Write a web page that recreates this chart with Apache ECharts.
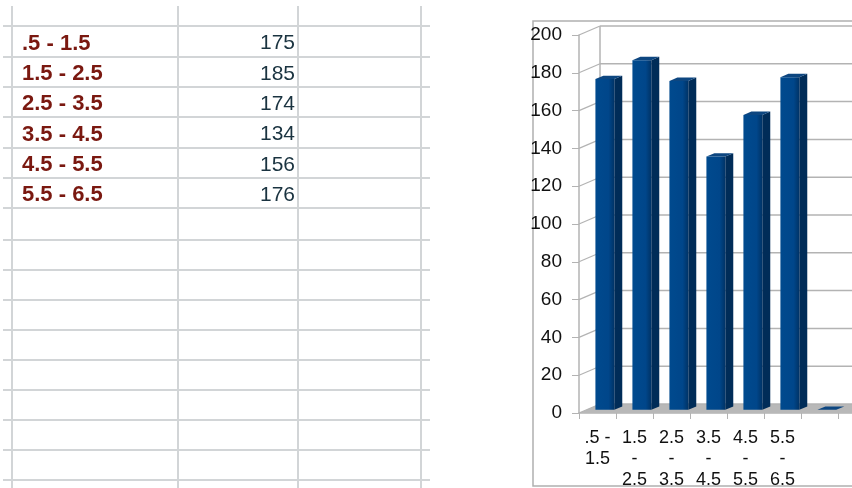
<!DOCTYPE html>
<html><head><meta charset="utf-8">
<script src="https://cdn.jsdelivr.net/npm/echarts@6/dist/echarts.min.js"></script>
<style>html,body{margin:0;padding:0;background:#fff}#c{width:852px;height:488px}</style>
</head><body><div id="c"></div>
<script>
// ---- data ----
const categories = ['.5 - 1.5', '1.5 - 2.5', '2.5 - 3.5', '3.5 - 4.5', '4.5 - 5.5', '5.5 - 6.5'];
const counts = [175, 185, 174, 134, 156, 176];
// chart range also covers the next (empty) spreadsheet rows
const extraCategories = ['', ''];
const extraValues = [0, null];
const yTicks = [0, 20, 40, 60, 80, 100, 120, 140, 160, 180, 200];

const chartCategories = categories.concat(extraCategories);
const chartValues = counts.concat(extraValues);

// ---- layout / style (decoration) ----
const FONT = 'Liberation Sans, Arial, sans-serif';
const DX = 21, DY = -9;          // depth of the 3D box
const F1 = 0.35, F2 = 0.73;      // bar front / back depth fractions
const rowLines = [26, 57, 87, 117, 148, 178, 208, 240, 270, 300, 330, 360, 390, 420, 450, 480];
const colLines = [12, 178, 298, 421];
const gridColor = '#d2d5d7';
const wallColor = '#b3b3b3';

const chart = echarts.init(document.getElementById('c'), null, {renderer: 'canvas'});

function wrapLabel(s) {
  if (!s) return '';
  const parts = s.split(' - ');
  if (parts.length < 2) return s;
  return parts[0].length < 3 ? parts[0] + ' -\n' + parts[1] : parts[0] + '\n-\n' + parts[1];
}

const graphics = [];
rowLines.forEach(y => graphics.push({type: 'line', z: -10, shape: {x1: 3, y1: y, x2: 430, y2: y}, style: {stroke: gridColor, lineWidth: 2}}));
colLines.forEach(x => graphics.push({type: 'line', z: -10, shape: {x1: x, y1: 6, x2: x, y2: 488}, style: {stroke: gridColor, lineWidth: 2}}));
categories.forEach((c, i) => {
  const yc = (rowLines[i] + rowLines[i + 1]) / 2 + 2;
  graphics.push({type: 'text', z: 5, x: 22, y: yc, style: {text: c, font: 'bold 22px ' + FONT, fill: '#7a1810', verticalAlign: 'middle', align: 'left'}});
  graphics.push({type: 'text', z: 5, x: 295, y: yc, style: {text: String(counts[i]), font: '21px ' + FONT, fill: '#1a3340', verticalAlign: 'middle', align: 'right'}});
});
// chart object frame
graphics.push({type: 'rect', z: -5, shape: {x: 533, y: 21, width: 400, height: 465}, style: {fill: '#fff', stroke: '#b0b0b0', lineWidth: 1.5}});

const nCat = chartCategories.length;

function renderWall(params, api) {
  const v = api.value(1);
  const p = api.coord([0, v]);
  const bw = api.size([1, 0])[0];
  const x0 = p[0] - bw / 2;
  const xR = api.coord([nCat - 1, v])[0] + bw / 2;
  const y = p[1];
  const children = [];
  if (v === 0) {
    children.push({type: 'polygon', shape: {points: [[x0, y], [xR, y], [xR + DX, y + DY], [x0 + DX, y + DY]]},
      style: {fill: '#b8b8b8', stroke: null}});
  }
  children.push({type: 'line', shape: {x1: x0, y1: y, x2: x0 + DX, y2: y + DY}, style: {stroke: wallColor, lineWidth: 1.2}});
  children.push({type: 'line', shape: {x1: x0 + DX, y1: y + DY, x2: xR + DX + 40, y2: y + DY}, style: {stroke: wallColor, lineWidth: 1.5}});
  if (v === yTicks[yTicks.length - 1]) {
    const y0 = api.coord([0, 0])[1];
    children.push({type: 'line', shape: {x1: x0 + DX, y1: y + DY, x2: x0 + DX, y2: y0 + DY}, style: {stroke: wallColor, lineWidth: 1.5}});
  }
  return {type: 'group', children};
}

function renderBar(params, api) {
  const i = api.value(0), v = api.value(1);
  if (v == null || isNaN(v)) return;
  const top = api.coord([i, v]);
  const bot = api.coord([i, 0]);
  const bw = api.size([1, 0])[0];
  const w = bw * 0.51;
  const fx = top[0] - w / 2 + F1 * DX;
  const fyT = top[1] + F1 * DY, fyB = bot[1] + F1 * DY;
  const sx = (F2 - F1) * DX, sy = (F2 - F1) * DY;
  return {type: 'group', children: [
    {type: 'polygon', shape: {points: [[fx + w, fyT], [fx + w + sx, fyT + sy], [fx + w + sx, fyB + sy], [fx + w, fyB]]},
      style: {fill: '#002c58'}},
    {type: 'polygon', shape: {points: [[fx, fyT], [fx + w, fyT], [fx + w + sx, fyT + sy], [fx + sx, fyT + sy]]},
      style: {fill: '#0d4680'}},
    {type: 'rect', shape: {x: fx, y: fyT, width: w, height: fyB - fyT},
      style: {fill: new echarts.graphic.LinearGradient(0, 0, 1, 0, [
        {offset: 0, color: '#004a8e'}, {offset: 0.7, color: '#00468a'}, {offset: 1, color: '#003366'}])}}
  ]};
}

const option = {
  animation: false,
  backgroundColor: '#fff',
  graphic: graphics,
  grid: {left: 579, top: 35, bottom: 75, width: 37 * nCat, containLabel: false, outerBoundsMode: 'none'},
  xAxis: {
    type: 'category', data: chartCategories, boundaryGap: true,
    axisLine: {show: true, lineStyle: {color: wallColor, width: 1.5}},
    axisTick: {show: true, length: 6, lineStyle: {color: wallColor}},
    axisLabel: {interval: 0, fontSize: 18, fontFamily: FONT, color: '#111', lineHeight: 21, margin: 15, formatter: wrapLabel},
    splitLine: {show: false}
  },
  yAxis: {
    type: 'value', min: 0, max: 200, interval: 20,
    axisLine: {show: true, lineStyle: {color: wallColor, width: 1.5}},
    axisTick: {show: true, length: 7, lineStyle: {color: wallColor}},
    axisLabel: {fontSize: 19, fontFamily: FONT, color: '#111', margin: 17},
    splitLine: {show: false}
  },
  series: [
    {type: 'custom', z: 1, renderItem: renderWall, data: yTicks.map(v => [0, v]), encode: {x: 0, y: 1}, silent: true},
    {type: 'custom', z: 3, renderItem: renderBar, data: chartValues.map((v, i) => [i, v]), encode: {x: 0, y: 1}}
  ]
};
chart.setOption(option);
</script>
</body></html>
